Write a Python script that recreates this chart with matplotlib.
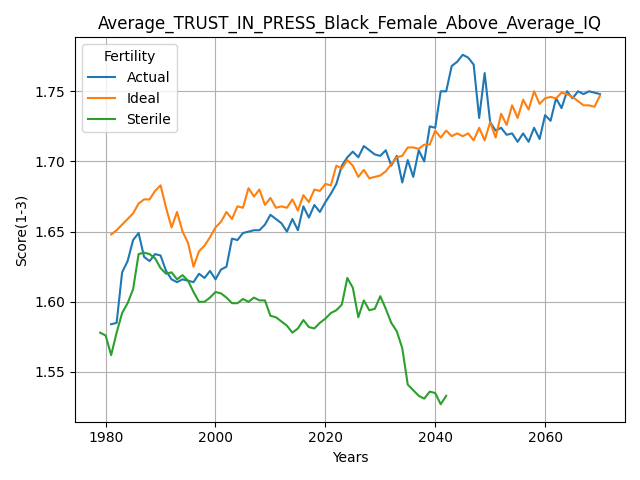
import matplotlib
matplotlib.use("Agg")
import matplotlib.pyplot as plt

years_actual = list(range(1981, 2071))
actual = [1.584,1.585,1.621,1.629,1.644,1.649,1.632,1.629,1.634,1.633,
1.622,1.616,1.614,1.616,1.615,1.614,1.620,1.617,1.622,1.616,
1.623,1.625,1.645,1.644,1.649,1.650,1.651,1.651,1.655,1.662,
1.659,1.656,1.650,1.659,1.651,1.668,1.660,1.669,1.664,1.671,
1.677,1.684,1.697,1.703,1.707,1.703,1.711,1.708,1.705,1.704,
1.708,1.697,1.704,1.685,1.701,1.689,1.708,1.700,1.725,1.724,
1.750,1.750,1.768,1.771,1.776,1.774,1.769,1.731,1.763,1.728,
1.722,1.724,1.719,1.720,1.714,1.720,1.714,1.724,1.716,1.733,
1.729,1.745,1.738,1.750,1.745,1.750,1.748,1.750,1.749,1.748]

years_ideal = list(range(1981, 2071))
ideal = [1.648,1.651,1.655,1.659,1.663,1.670,1.673,1.673,1.679,1.683,
1.667,1.653,1.664,1.650,1.642,1.625,1.636,1.640,1.646,1.653,
1.657,1.664,1.659,1.668,1.667,1.681,1.675,1.680,1.669,1.674,
1.667,1.668,1.667,1.673,1.665,1.676,1.671,1.680,1.679,1.684,
1.683,1.697,1.695,1.701,1.697,1.689,1.694,1.688,1.689,1.690,
1.693,1.698,1.703,1.704,1.710,1.710,1.709,1.712,1.712,1.722,
1.717,1.722,1.718,1.720,1.718,1.720,1.715,1.724,1.715,1.728,
1.717,1.734,1.726,1.740,1.731,1.744,1.737,1.750,1.741,1.745,
1.746,1.745,1.749,1.748,1.746,1.743,1.740,1.740,1.739,1.747]

years_sterile = list(range(1979, 2043))
sterile = [1.578,1.576,1.562,1.578,1.592,1.599,1.609,1.634,1.635,1.634,
1.631,1.624,1.620,1.621,1.616,1.619,1.615,1.607,1.600,1.600,
1.603,1.607,1.606,1.603,1.599,1.599,1.602,1.600,1.603,1.601,
1.601,1.590,1.589,1.586,1.583,1.578,1.581,1.587,1.582,1.581,
1.585,1.588,1.592,1.594,1.598,1.617,1.610,1.589,1.601,1.594,
1.595,1.604,1.595,1.585,1.579,1.567,1.541,1.537,1.533,1.531,
1.536,1.535,1.527,1.533]

fig, ax = plt.subplots(figsize=(6.4, 4.8), dpi=100)
ax.plot(years_actual, actual, label="Actual")
ax.plot(years_ideal, ideal, label="Ideal")
ax.plot(years_sterile, sterile, label="Sterile")
ax.set_title("Average_TRUST_IN_PRESS_Black_Female_Above_Average_IQ")
ax.set_xlabel("Years")
ax.set_ylabel("Score(1-3)")
ax.grid(True)
ax.legend(title="Fertility", loc="upper left")
fig.tight_layout()
fig.savefig("out.png")
